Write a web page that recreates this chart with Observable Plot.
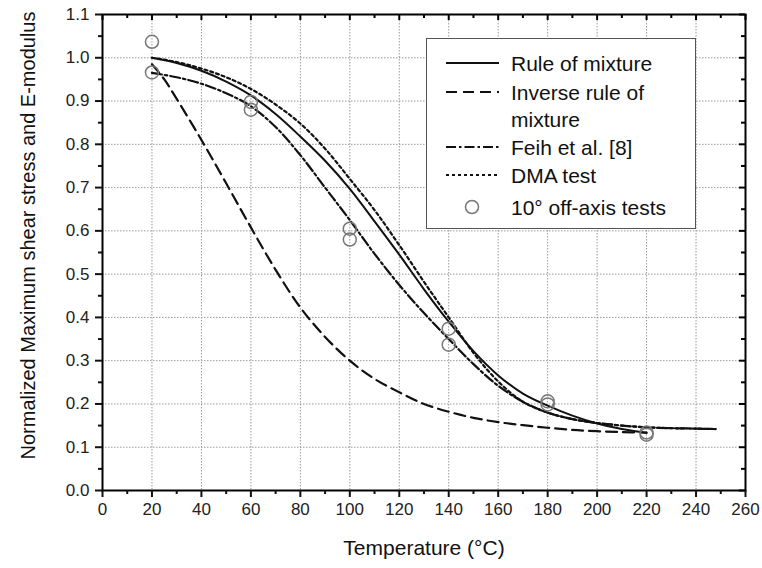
<!DOCTYPE html>
<html><head><meta charset="utf-8">
<script src="https://cdn.jsdelivr.net/npm/d3@7"></script>
<script src="https://cdn.jsdelivr.net/npm/@observablehq/plot@0.6"></script>
<style>
body{margin:0;background:#fff;}
#wrap{position:relative;width:762px;height:568px;font-family:"Liberation Sans",Arial,sans-serif;}
#legend{position:absolute;left:426px;top:38px;width:268px;height:189px;border:1.5px solid #555;background:#fff;}
</style></head><body><div id="wrap"></div>
<script>
// ---- data ----
const ruleTemps = [20,30,40,50,60,70,80,90,100,110,120,130,140,150,160,170,180,190,200,210,220];
const ruleOfMixture = [1.0,0.988,0.97,0.945,0.913,0.87,0.818,0.762,0.697,0.622,0.545,0.465,0.39,0.322,0.266,0.224,0.196,0.173,0.155,0.142,0.133];

const inverseTemps = [20,25,30,40,50,60,70,80,90,100,110,120,130,140,150,160,170,180,190,200,210,220];
const inverseRule = [0.985,0.95,0.905,0.81,0.71,0.608,0.51,0.423,0.355,0.30,0.258,0.227,0.2,0.182,0.168,0.158,0.151,0.145,0.14,0.137,0.135,0.134];

const feihTemps = [20,30,40,50,60,70,80,90,100,110,120,130,140,150,160,170,180,190,200,210,220,230,240,248];
const feih = [0.965,0.955,0.94,0.918,0.888,0.84,0.775,0.7,0.625,0.547,0.475,0.41,0.35,0.292,0.242,0.205,0.18,0.165,0.156,0.15,0.146,0.144,0.143,0.142];

const dmaTemps = [20,30,40,50,60,70,80,90,100,110,120,130,140,150,160,170,180,190,200,210,220,230,240,248];
const dma = [1.0,0.99,0.975,0.955,0.928,0.892,0.848,0.79,0.72,0.648,0.567,0.482,0.40,0.318,0.252,0.205,0.18,0.165,0.156,0.15,0.146,0.144,0.143,0.142];

const testTemps = [20,20,60,60,100,100,140,140,180,180,220,220];
const testValues = [1.037,0.966,0.898,0.88,0.605,0.58,0.374,0.337,0.206,0.199,0.134,0.129];

const xMajor = [0,20,40,60,80,100,120,140,160,180,200,220,240,260];
const xMinor = [10,30,50,70,90,110,130,150,170,190,210,230,250];
const yMajor = [0.0,0.1,0.2,0.3,0.4,0.5,0.6,0.7,0.8,0.9,1.0,1.1];
const yMinor = [0.05,0.15,0.25,0.35,0.45,0.55,0.65,0.75,0.85,0.95,1.05];
const xGrid = [20,40,60,80,100,120,140,160,180,200,220,240];
const yGrid = [0.1,0.2,0.3,0.4,0.5,0.6,0.7,0.8,0.9,1.0];

const xTitle = "Temperature (°C)";
const yTitle = "Normalized Maximum shear stress and E-modulus";
const legendLabels = ["Rule of mixture", "Inverse rule of", "mixture", "Feih et al. [8]", "DMA test", "10° off-axis tests"];

// ---- layout ----
const W = 762, H = 568, mL = 102, mR = 17, mT = 14, mB = 78;
const pw = W - mL - mR, ph = H - mT - mB;

const toRows = (xs, ys) => xs.map((x, i) => ({x, y: ys[i]}));
const font = "Liberation Sans, Arial, sans-serif";

const chart = Plot.plot({
  width: W, height: H,
  marginLeft: mL, marginRight: mR, marginTop: mT, marginBottom: mB,
  style: {fontFamily: font, background: "#fff", color: "#111"},
  x: {domain: [0, 260]},
  y: {domain: [0, 1.1]},
  marks: [
    Plot.ruleX(xGrid, {x: d => d, stroke: "#999", strokeDasharray: "1.5,1.5", strokeWidth: 1}),
    Plot.ruleY(yGrid, {y: d => d, stroke: "#999", strokeDasharray: "1.5,1.5", strokeWidth: 1}),
    // curves
    Plot.line(toRows(inverseTemps, inverseRule), {x: "x", y: "y", curve: "catmull-rom", stroke: "#111", strokeWidth: 2.2, strokeDasharray: "11,6"}),
    Plot.line(toRows(feihTemps, feih), {x: "x", y: "y", curve: "catmull-rom", stroke: "#111", strokeWidth: 2.2, strokeDasharray: "10,3,2.5,3"}),
    Plot.line(toRows(dmaTemps, dma), {x: "x", y: "y", curve: "catmull-rom", stroke: "#111", strokeWidth: 2.2, strokeDasharray: "3,3"}),
    Plot.line(toRows(ruleTemps, ruleOfMixture), {x: "x", y: "y", curve: "catmull-rom", stroke: "#111", strokeWidth: 2}),
    Plot.dot(toRows(testTemps, testValues), {x: "x", y: "y", r: 6.5, stroke: "#777", strokeWidth: 1.5, fill: "none"}),
    // frame and axes
    Plot.frame({stroke: "#000", strokeWidth: 2}),
    Plot.axisX(xMajor, {anchor: "bottom", tickSize: 7, tickPadding: 5, strokeWidth: 2, fontSize: 17, label: null, fill: "#222"}),
    Plot.axisX(xMinor, {anchor: "bottom", tickSize: 4, strokeWidth: 2, tickFormat: () => "", label: null}),
    Plot.axisY(yMajor, {anchor: "left", tickSize: 7, tickPadding: 6, strokeWidth: 2, fontSize: 17, label: null, fill: "#222", tickFormat: d3.format(".1f")}),
    Plot.axisY(yMinor, {anchor: "left", tickSize: 4, strokeWidth: 2, tickFormat: () => "", label: null}),
    Plot.tickX(xMajor, {x: d => d, insetBottom: ph - 6, stroke: "#000", strokeWidth: 2}),
    Plot.tickX(xMinor, {x: d => d, insetBottom: ph - 4, stroke: "#000", strokeWidth: 2}),
    Plot.tickY(yMajor, {y: d => d, insetLeft: pw - 6, stroke: "#000", strokeWidth: 2}),
    Plot.tickY(yMinor, {y: d => d, insetLeft: pw - 4, stroke: "#000", strokeWidth: 2}),
    // titles
    Plot.text([xTitle], {frameAnchor: "bottom", dy: 64, fontSize: 21, fill: "#111", text: d => d}),
    Plot.text([yTitle], {frameAnchor: "left", rotate: -90, textAnchor: "middle", dx: -74, dy: -17, fontSize: 20, fill: "#111", text: d => d})
  ]
});

const wrap = document.getElementById("wrap");
wrap.appendChild(chart);

// ---- legend ----
const leg = document.createElement("div");
leg.id = "legend";
const ns = "http://www.w3.org/2000/svg";
const ls = document.createElementNS(ns, "svg");
ls.setAttribute("width", 268); ls.setAttribute("height", 189);
const rows = [
  {label: legendLabels[0], y: 24, dash: null},
  {label: legendLabels[1], y: 53, dash: "11,6"},
  {label: legendLabels[2], y: 80, dash: "none"},
  {label: legendLabels[3], y: 108, dash: "10,3,2.5,3"},
  {label: legendLabels[4], y: 136, dash: "3,3"},
  {label: legendLabels[5], y: 168, dash: "circle"}
];
for (const r of rows) {
  if (r.dash === "circle") {
    const c = document.createElementNS(ns, "circle");
    c.setAttribute("cx", 45); c.setAttribute("cy", r.y); c.setAttribute("r", 6.5);
    c.setAttribute("fill", "none"); c.setAttribute("stroke", "#777"); c.setAttribute("stroke-width", 1.5);
    ls.appendChild(c);
  } else if (r.dash !== "none") {
    const l = document.createElementNS(ns, "line");
    l.setAttribute("x1", 19); l.setAttribute("x2", 72); l.setAttribute("y1", r.y); l.setAttribute("y2", r.y);
    l.setAttribute("stroke", "#111"); l.setAttribute("stroke-width", 2.2);
    if (r.dash) l.setAttribute("stroke-dasharray", r.dash);
    ls.appendChild(l);
  }
  const t = document.createElementNS(ns, "text");
  t.setAttribute("x", 84); t.setAttribute("y", r.y); t.setAttribute("dy", "0.36em");
  t.setAttribute("font-size", 21); t.setAttribute("font-family", font); t.setAttribute("fill", "#111");
  t.textContent = r.label;
  ls.appendChild(t);
}
leg.appendChild(ls);
wrap.appendChild(leg);
</script></body></html>
